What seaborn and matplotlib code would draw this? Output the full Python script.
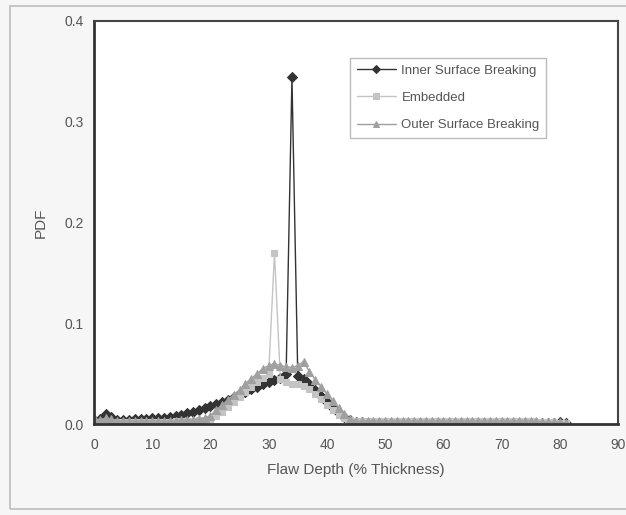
"""
Flaw depth PDF: inner surface breaking / embedded / outer surface breaking.
"""

import matplotlib.pyplot as plt
import pandas as pd
import seaborn as sns
from matplotlib.patches import Rectangle
from matplotlib.ticker import MultipleLocator

depth = list(range(0, 82))

inner = [
    0.004, 0.005, 0.010, 0.007, 0.004, 0.004, 0.004, 0.005, 0.005, 0.005,
    0.006, 0.006, 0.006, 0.007, 0.008, 0.009, 0.011, 0.012, 0.014, 0.016,
    0.018, 0.020, 0.022, 0.024, 0.027, 0.029, 0.032, 0.035, 0.037, 0.040,
    0.042, 0.044, 0.046, 0.050, 0.344, 0.048, 0.045, 0.040, 0.034, 0.028,
    0.022, 0.016, 0.011, 0.007, 0.004, 0.002, 0.002, 0.001, 0.001, 0.001,
    0.001, 0.001, 0.001, 0.001, 0.001, 0.001, 0.001, 0.001, 0.001, 0.001,
    0.001, 0.001, 0.001, 0.001, 0.001, 0.001, 0.001, 0.001, 0.001, 0.001,
    0.001, 0.001, 0.001, 0.001, 0.001, 0.001, 0.001, 0.001, 0.001, 0.001,
    0.002, 0.001,
]

embedded = [
    0.002, 0.002, 0.003, 0.002, 0.002, 0.002, 0.002, 0.002, 0.002, 0.002,
    0.002, 0.002, 0.002, 0.002, 0.003, 0.003, 0.003, 0.003, 0.004, 0.004,
    0.005, 0.008, 0.012, 0.017, 0.022, 0.027, 0.032, 0.037, 0.042, 0.046,
    0.050, 0.170, 0.045, 0.042, 0.040, 0.040, 0.038, 0.035, 0.030, 0.025,
    0.019, 0.014, 0.009, 0.006, 0.004, 0.003, 0.003, 0.003, 0.003, 0.003,
    0.003, 0.003, 0.003, 0.003, 0.003, 0.003, 0.003, 0.003, 0.003, 0.003,
    0.003, 0.003, 0.003, 0.003, 0.003, 0.003, 0.003, 0.003, 0.003, 0.003,
    0.003, 0.003, 0.003, 0.003, 0.003, 0.003, 0.002, 0.002, 0.002, 0.002,
    0.001, 0.001,
]

outer = [
    0.006, 0.004, 0.006, 0.005, 0.003, 0.003, 0.003, 0.003, 0.003, 0.003,
    0.003, 0.003, 0.003, 0.003, 0.003, 0.004, 0.004, 0.004, 0.005, 0.006,
    0.008, 0.014, 0.019, 0.024, 0.029, 0.034, 0.040, 0.045, 0.050, 0.055,
    0.058, 0.060, 0.058, 0.057, 0.056, 0.058, 0.062, 0.052, 0.044, 0.037,
    0.030, 0.023, 0.016, 0.010, 0.005, 0.003, 0.003, 0.003, 0.003, 0.003,
    0.003, 0.003, 0.003, 0.003, 0.003, 0.003, 0.003, 0.003, 0.003, 0.003,
    0.003, 0.003, 0.003, 0.003, 0.003, 0.003, 0.003, 0.003, 0.003, 0.003,
    0.003, 0.003, 0.003, 0.003, 0.003, 0.003, 0.003, 0.002, 0.002, 0.002,
    0.002, 0.001,
]

series = [
    ("Inner Surface Breaking", inner, "#333333", "D", 5),
    ("Embedded", embedded, "#c4c4c4", "s", 5),
    ("Outer Surface Breaking", outer, "#a0a0a0", "^", 6),
]

sns.set_style("white")
plt.rcParams["font.family"] = ["Liberation Sans", "DejaVu Sans"]
TXT = "#555555"

fig = plt.figure(figsize=(6.26, 5.15), dpi=100, facecolor="#f6f6f6")
fig.patches.append(Rectangle((10 / 626, 6 / 515), 1.0, 503 / 515, transform=fig.transFigure,
                             fill=False, edgecolor="#bdbdbd", linewidth=1.2))
ax = fig.add_axes([94 / 626, 1 - 424 / 515, (618 - 94) / 626, (424 - 21) / 515])
ax.set_facecolor("#ffffff")

for name, vals, color, marker, ms in series:
    df = pd.DataFrame({"depth": depth, "pdf": vals})
    sns.lineplot(data=df, x="depth", y="pdf", ax=ax, color=color, marker=marker,
                 markersize=ms, markeredgecolor=color, linewidth=1.0, label=name)

ax.set_xlim(0, 90)
ax.set_ylim(0, 0.4)
ax.xaxis.set_major_locator(MultipleLocator(10))
ax.xaxis.set_minor_locator(MultipleLocator(5))
ax.yaxis.set_major_locator(MultipleLocator(0.1))
ax.yaxis.set_minor_locator(MultipleLocator(0.05))
ax.yaxis.set_major_formatter(plt.FuncFormatter(lambda v, p: f"{v:.1f}"))
ax.tick_params(which="both", direction="inout", colors="#333333", labelcolor=TXT,
               labelsize=10, width=1.5)
ax.tick_params(which="major", length=8)
ax.tick_params(which="minor", length=8)
ax.tick_params(axis="x", pad=6)

for side in ["left", "bottom"]:
    ax.spines[side].set_linewidth(2)
    ax.spines[side].set_color("#333333")
for side in ["top", "right"]:
    ax.spines[side].set_linewidth(1.5)
    ax.spines[side].set_color("#444444")

ax.set_xlabel("Flaw Depth (% Thickness)", color=TXT, fontsize=11, labelpad=8)
ax.set_ylabel("PDF", color=TXT, fontsize=11, labelpad=12)

leg = ax.legend(loc="upper left", bbox_to_anchor=(0.476, 0.925), fontsize=9.5, frameon=True,
                fancybox=False, edgecolor="#aaaaaa", labelspacing=1.15, handlelength=3.0,
                handletextpad=0.4, borderpad=0.5, markerscale=0.75)
for t in leg.get_texts():
    t.set_color(TXT)

fig.savefig("out.png", dpi=100, facecolor=fig.get_facecolor())
